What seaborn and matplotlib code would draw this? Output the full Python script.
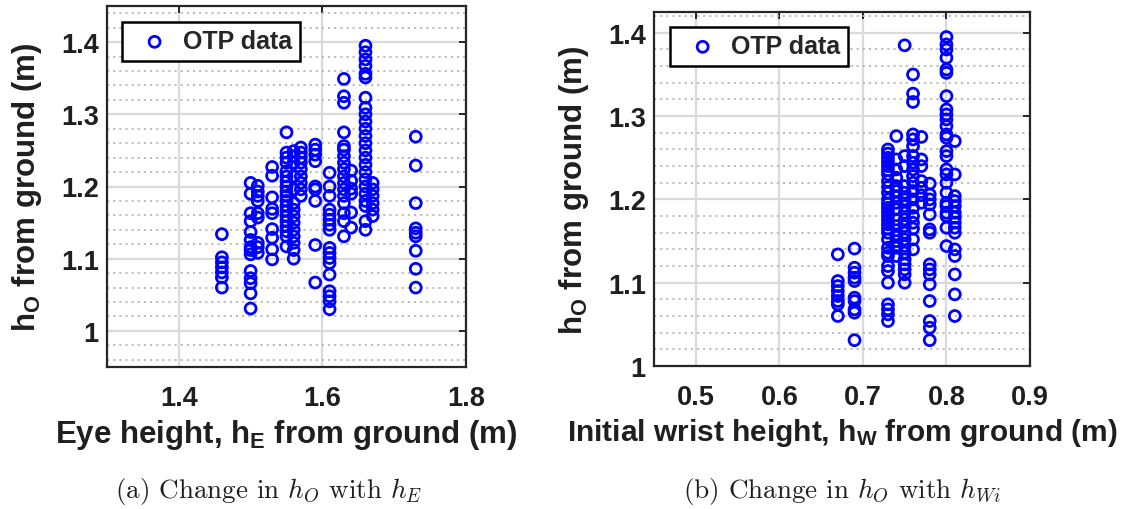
import numpy as np
import pandas as pd
import matplotlib
matplotlib.use("Agg")
import matplotlib.pyplot as plt
import seaborn as sns
from matplotlib.ticker import MultipleLocator

# ---------------- data ----------------
# Panel (a): eye height columns and h_O values
he_levels = [1.46, 1.50, 1.51, 1.53, 1.55, 1.56, 1.57, 1.59, 1.61, 1.63, 1.64, 1.66, 1.67, 1.73]
ho_by_he = [
    [1.134, 1.102, 1.095, 1.088, 1.081, 1.074, 1.060],
    [1.205, 1.190, 1.163, 1.152, 1.137, 1.126, 1.116, 1.112, 1.106, 1.083, 1.073, 1.066, 1.052, 1.031],
    [1.201, 1.193, 1.187, 1.180, 1.163, 1.157, 1.122, 1.116, 1.108],
    [1.227, 1.215, 1.185, 1.169, 1.163, 1.141, 1.129, 1.113, 1.099],
    [1.275, 1.247, 1.240, 1.233, 1.221, 1.214, 1.207, 1.200, 1.193, 1.187, 1.180, 1.173,
     1.166, 1.159, 1.152, 1.145, 1.138, 1.131, 1.117],
    [1.249, 1.242, 1.233, 1.214, 1.196, 1.177, 1.168, 1.159, 1.150, 1.140, 1.131, 1.122, 1.112, 1.100],
    [1.254, 1.247, 1.240, 1.233, 1.224, 1.214, 1.205, 1.196, 1.187],
    [1.258, 1.251, 1.244, 1.235, 1.200, 1.196, 1.180, 1.119, 1.067],
    [1.219, 1.200, 1.187, 1.168, 1.161, 1.154, 1.147, 1.140, 1.115, 1.108, 1.101, 1.094,
     1.078, 1.055, 1.048, 1.041, 1.030],
    [1.349, 1.325, 1.316, 1.275, 1.256, 1.251, 1.242, 1.233, 1.224, 1.214, 1.205, 1.196,
     1.187, 1.177, 1.163, 1.152, 1.131],
    [1.222, 1.208, 1.197, 1.190, 1.164, 1.143],
    [1.395, 1.386, 1.376, 1.367, 1.356, 1.351, 1.323, 1.309, 1.300, 1.290, 1.280, 1.270,
     1.260, 1.250, 1.240, 1.230, 1.220, 1.210, 1.200, 1.190, 1.180, 1.173, 1.152, 1.140],
    [1.205, 1.196, 1.187, 1.177, 1.168, 1.159],
    [1.269, 1.229, 1.177, 1.142, 1.136, 1.131, 1.111, 1.086, 1.060],
]

# Panel (b): initial wrist height columns and h_O values
hw_levels = [0.67, 0.69, 0.73, 0.74, 0.75, 0.76, 0.77, 0.78, 0.80, 0.81]
ho_by_hw = [
    [1.134, 1.102, 1.096, 1.090, 1.084, 1.078, 1.074, 1.060],
    [1.141, 1.118, 1.112, 1.106, 1.102, 1.082, 1.078, 1.068, 1.064, 1.031],
    [1.260, 1.255, 1.250, 1.245, 1.240, 1.235, 1.230, 1.222, 1.215, 1.208, 1.200, 1.195,
     1.190, 1.185, 1.180, 1.175, 1.170, 1.165, 1.160, 1.152, 1.142, 1.136, 1.132, 1.120,
     1.114, 1.100, 1.074, 1.068, 1.062, 1.054],
    [1.276, 1.248, 1.236, 1.226, 1.216, 1.210, 1.204, 1.196, 1.188, 1.176, 1.168, 1.158,
     1.150, 1.142, 1.132],
    [1.385, 1.252, 1.240, 1.216, 1.208, 1.200, 1.192, 1.184, 1.176, 1.168, 1.160, 1.152,
     1.144, 1.136, 1.128, 1.122, 1.116, 1.110, 1.100],
    [1.350, 1.327, 1.317, 1.278, 1.272, 1.264, 1.252, 1.244, 1.236, 1.228, 1.220, 1.210,
     1.200, 1.190, 1.180, 1.172, 1.165, 1.152, 1.140],
    [1.275, 1.248, 1.240, 1.222, 1.214, 1.205, 1.196],
    [1.219, 1.206, 1.200, 1.194, 1.182, 1.164, 1.160, 1.122, 1.116, 1.110, 1.098, 1.078,
     1.054, 1.046, 1.031],
    [1.395, 1.386, 1.380, 1.370, 1.356, 1.352, 1.324, 1.308, 1.302, 1.296, 1.288, 1.278,
     1.274, 1.258, 1.252, 1.236, 1.230, 1.220, 1.208, 1.196, 1.192, 1.184, 1.180, 1.166, 1.144],
    [1.270, 1.230, 1.204, 1.198, 1.192, 1.184, 1.178, 1.172, 1.166, 1.160, 1.140, 1.132,
     1.110, 1.086, 1.060],
]

x_ticks_a = [1.4, 1.6, 1.8]
x_ticks_b = [0.5, 0.6, 0.7, 0.8, 0.9]
y_ticks = [1.0, 1.1, 1.2, 1.3, 1.4]

legend_label = "OTP data"
xlabel_a = r"Eye height, h$_\mathrm{E}$ from ground (m)"
xlabel_b = r"Initial wrist height, h$_\mathrm{W}$ from ground (m)"
ylabel = r"h$_\mathrm{O}$ from ground (m)"
caption_a = r"(a) Change in $h_O$ with $h_E$"
caption_b = r"(b) Change in $h_O$ with $h_{Wi}$"


def to_frame(levels, groups):
    xs, ys = [], []
    for lv, g in zip(levels, groups):
        xs += [lv] * len(g)
        ys += list(g)
    return pd.DataFrame({"x": xs, "y": ys})


df_a = to_frame(he_levels, ho_by_he)
df_b = to_frame(hw_levels, ho_by_hw)

# ---------------- style ----------------
sns.set_theme(style="white")
plt.rcParams["font.family"] = ["Liberation Sans", "DejaVu Sans"]
plt.rcParams["font.weight"] = "bold"
plt.rcParams["mathtext.fontset"] = "custom"
plt.rcParams["mathtext.rm"] = "Liberation Sans:bold"
plt.rcParams["mathtext.it"] = "Liberation Sans:bold"
plt.rcParams["mathtext.bf"] = "Liberation Sans:bold"

W, H = 1127, 510
fig = plt.figure(figsize=(W / 100, H / 100), dpi=100)
fig.patch.set_facecolor("white")


def px_axes(x0, y0, x1, y1):
    return fig.add_axes([x0 / W, 1 - y1 / H, (x1 - x0) / W, (y1 - y0) / H])


ax_a = px_axes(107, 7, 466, 368)
ax_b = px_axes(654, 13, 1030, 367)

blue = "#0000ff"
frame_c = "#262626"
text_c = "#1f1f1f"


def style_axes(ax, df, xlim, ylim, xticks, xlabel, xlabel_size, leg_anchor):
    sns.scatterplot(data=df, x="x", y="y", ax=ax, marker="o", s=62,
                    facecolor="none", edgecolor=blue, linewidth=2.0,
                    label=legend_label, zorder=3)
    ax.set_xlim(*xlim)
    ax.set_ylim(*ylim)
    ax.set_xticks(xticks)
    ax.set_yticks(y_ticks)
    ax.xaxis.set_major_formatter(matplotlib.ticker.FuncFormatter(lambda v, p: f"{v:g}"))
    ax.yaxis.set_major_formatter(matplotlib.ticker.FuncFormatter(lambda v, p: f"{v:g}"))
    ax.yaxis.set_minor_locator(MultipleLocator(0.02))
    ax.grid(True, which="major", axis="both", color="#dadada", linewidth=1.6, zorder=0)
    ax.grid(True, which="minor", axis="y", color="#b8b8b8", linewidth=1.3,
            linestyle=(0, (1.2, 2.2)), zorder=0)
    ax.set_axisbelow(True)
    ax.tick_params(which="major", direction="in", length=5, width=1.4, colors=frame_c,
                   top=True, right=True, labelsize=19.5, labelcolor=text_c)
    ax.tick_params(axis="x", which="major", pad=13)
    ax.tick_params(axis="y", which="major", pad=6)
    ax.tick_params(which="minor", length=0, left=False, right=False)
    for sp in ax.spines.values():
        sp.set_color(frame_c)
        sp.set_linewidth(1.6)
        sp.set_visible(True)
    for lab in ax.get_xticklabels() + ax.get_yticklabels():
        lab.set_fontweight("bold")
    ax.set_xlabel(xlabel, fontsize=xlabel_size, fontweight="bold", color=text_c, labelpad=4)
    ax.set_ylabel(ylabel, fontsize=22.5, fontweight="bold", color=text_c, labelpad=12)
    leg = ax.legend(loc="upper left", bbox_to_anchor=leg_anchor, frameon=True,
                    fancybox=False, edgecolor="#000000", framealpha=1,
                    prop={"weight": "bold", "size": 18}, handletextpad=0.15,
                    borderpad=0.3, handlelength=2.0, borderaxespad=0)
    leg.get_frame().set_linewidth(1.8)


style_axes(ax_a, df_a, (1.3, 1.8), (0.95, 1.45), x_ticks_a, xlabel_a, 22.5, (0.042, 0.956))
style_axes(ax_b, df_b, (0.45, 0.9), (1.0, 1.425), x_ticks_b, xlabel_b, 21.5, (0.043, 0.958))

for x, txt in [(269, caption_a), (842, caption_b)]:
    fig.text(x / W, 1 - 492 / H, txt, ha="center", va="center", fontsize=19.5,
             fontfamily="cmr10", fontweight="normal", math_fontfamily="cm", color=text_c)

fig.savefig("out.png", dpi=100, facecolor="white")
